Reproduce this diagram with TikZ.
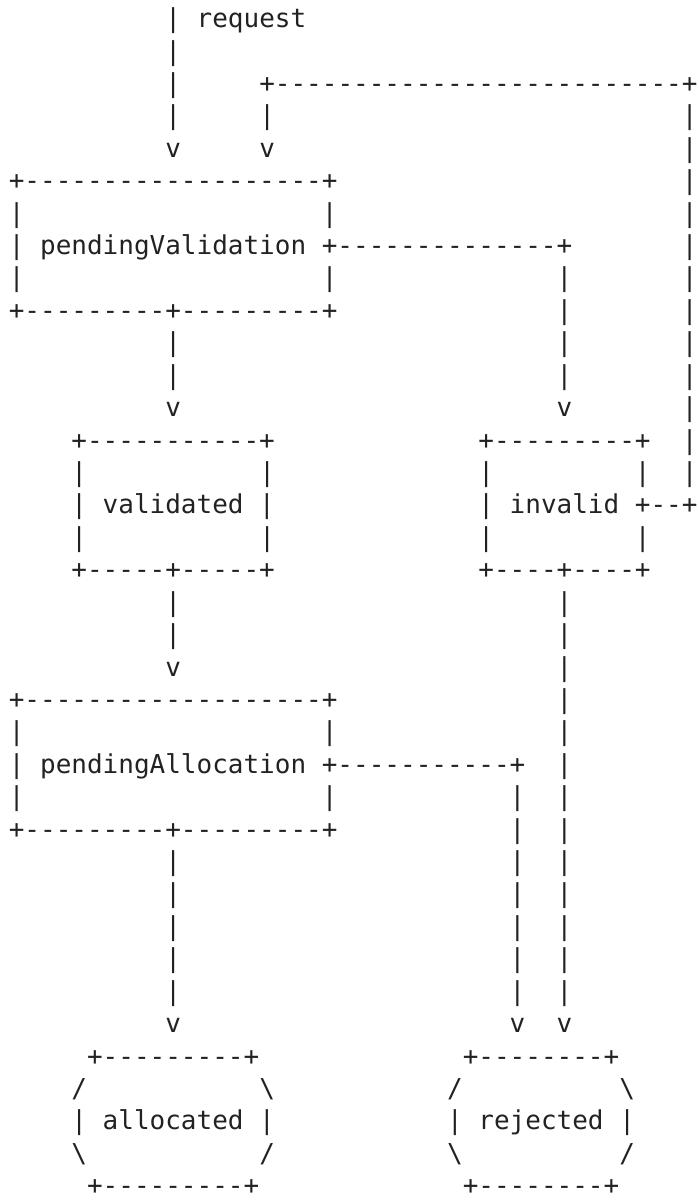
\documentclass[tikz,border=0pt]{standalone}
\usepackage{fontspec}
\setmonofont{DejaVu Sans Mono}
\usepackage{tikz}
\definecolor{ink}{HTML}{222222}
\tikzset{
  chr/.style={anchor=base west, inner sep=0pt, outer sep=0pt, text=ink,
              font=\ttfamily\fontsize{13pt}{16pt}\selectfont},
  chargrid/.style={x=7.827pt, y=-16.21pt, shift={(4.4pt,-13.8pt)}}
}
% column of bars: \vbar{col}{first row}{last row}
\newcommand\vbar[3]{\foreach \r in {#2,...,#3} \node[chr] (bar#1-\r) at (#1,\r) {|};}

\begin{document}
\begin{tikzpicture}
\useasboundingbox (0,0) rectangle (349.5pt,-600pt);
\begin{scope}[chargrid]
% request in, retry loop back from invalid
\node[chr] (req) at (10,0) {| request};
\vbar{10}{1}{3}
\node[chr] (in1) at (10,4) {v};
\node[chr] (loop) at (16,2) {+--------------------------+};
\node[chr] (loopdn) at (16,3) {|};
\node[chr] (in2) at (16,4) {v};
\vbar{43}{3}{14}

% pendingValidation
\node[chr] (pvtop) at (0,5) {+-------------------+};
\node[chr] (pvl1) at (0,6) {|}; \node[chr] (pvr1) at (20,6) {|};
\node[chr] (pv) at (0,7) {| pendingValidation +--------------+};
\node[chr] (pvl2) at (0,8) {|}; \node[chr] (pvr2) at (20,8) {|};
\node[chr] (pvbot) at (0,9) {+---------+---------+};
\vbar{35}{8}{11}
\vbar{10}{10}{11}
\node[chr] (toval) at (10,12) {v};
\node[chr] (toinv) at (35,12) {v};

% validated
\node[chr] (vatop) at (4,13) {+-----------+};
\node[chr] (val1) at (4,14) {|}; \node[chr] (var1) at (16,14) {|};
\node[chr] (va) at (4,15) {| validated |};
\node[chr] (val2) at (4,16) {|}; \node[chr] (var2) at (16,16) {|};
\node[chr] (vabot) at (4,17) {+-----+-----+};

% invalid
\node[chr] (ivtop) at (30,13) {+---------+};
\node[chr] (ivl1) at (30,14) {|}; \node[chr] (ivr1) at (40,14) {|};
\node[chr] (iv) at (30,15) {| invalid +--+};
\node[chr] (ivl2) at (30,16) {|}; \node[chr] (ivr2) at (40,16) {|};
\node[chr] (ivbot) at (30,17) {+----+----+};

\vbar{10}{18}{19}
\node[chr] (topa) at (10,20) {v};
\vbar{35}{18}{30}

% pendingAllocation
\node[chr] (patop) at (0,21) {+-------------------+};
\node[chr] (pal1) at (0,22) {|}; \node[chr] (par1) at (20,22) {|};
\node[chr] (pa) at (0,23) {| pendingAllocation +-----------+};
\node[chr] (pal2) at (0,24) {|}; \node[chr] (par2) at (20,24) {|};
\node[chr] (pabot) at (0,25) {+---------+---------+};
\vbar{32}{24}{30}
\vbar{10}{26}{30}
\node[chr] (toal) at (10,31) {v};
\node[chr] (torj1) at (32,31) {v};
\node[chr] (torj2) at (35,31) {v};

% final states
\node[chr] (altop) at (5,32) {+---------+};
\node[chr] (all1) at (4,33) {/}; \node[chr] (alr1) at (16,33) {\textbackslash};
\node[chr] (al) at (4,34) {| allocated |};
\node[chr] (all2) at (4,35) {\textbackslash}; \node[chr] (alr2) at (16,35) {/};
\node[chr] (albot) at (5,36) {+---------+};

\node[chr] (rjtop) at (29,32) {+--------+};
\node[chr] (rjl1) at (28,33) {/}; \node[chr] (rjr1) at (39,33) {\textbackslash};
\node[chr] (rj) at (28,34) {| rejected |};
\node[chr] (rjl2) at (28,35) {\textbackslash}; \node[chr] (rjr2) at (39,35) {/};
\node[chr] (rjbot) at (29,36) {+--------+};
\end{scope}
\end{tikzpicture}
\end{document}
